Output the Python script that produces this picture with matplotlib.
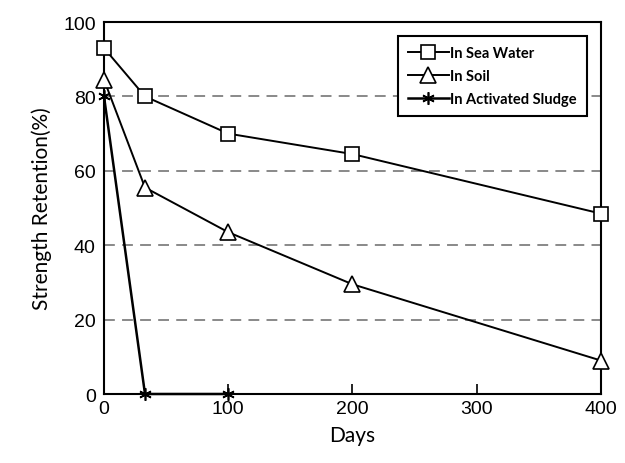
import matplotlib.pyplot as plt
import numpy as np

# days and strength retention (%)
days_sea = [0, 33, 100, 200, 400]
sea_water = [93, 80, 70, 64.5, 48.5]

days_soil = [0, 33, 100, 200, 400]
soil = [84.5, 55.5, 43.5, 29.5, 9]

days_sludge = [0, 33, 100]
sludge = [80, 0, 0]

labels = ["In Sea Water", "In Soil", "In Activated Sludge"]
x_ticks = [0, 100, 200, 300, 400]
y_ticks = [0, 20, 40, 60, 80, 100]
grid_levels = [20, 40, 60, 80]

plt.rcParams['font.family'] = ['Liberation Sans', 'DejaVu Sans']

fig = plt.figure(figsize=(6.25, 4.64), dpi=100)
ax = fig.add_axes([0.1664, 0.1487, 0.795, 0.8017])

for g in grid_levels:
    ax.axhline(g, color='#808080', lw=1.3, ls=(0, (6, 4)), zorder=1)

ax.plot(days_sea, sea_water, color='black', lw=1.4, marker='s', ms=10,
        mfc='white', mec='black', mew=1.2, label=labels[0], zorder=3, clip_on=False)
ax.plot(days_soil, soil, color='black', lw=1.4, marker='^', ms=11,
        mfc='white', mec='black', mew=1.2, label=labels[1], zorder=3, clip_on=False)
ax.plot(days_sludge, sludge, color='black', lw=1.8, marker=(6, 2, 0), ms=9,
        mec='black', mew=1.2, label=labels[2], zorder=3, clip_on=False)

ax.set_xlim(0, 400)
ax.set_ylim(0, 100)
ax.set_xticks(x_ticks)
ax.set_yticks(y_ticks)
ax.tick_params(axis='x', direction='in', length=7, width=1.2, labelsize=14, pad=4)
ax.tick_params(axis='y', direction='in', length=0, labelsize=14, pad=6)
for s in ax.spines.values():
    s.set_linewidth(1.5)

ax.set_xlabel("Days", fontsize=15, family='Lato', labelpad=6)
ax.set_ylabel("Strength Retention(%)", fontsize=15, family='Lato', labelpad=8)

leg = ax.legend(loc='upper right', bbox_to_anchor=(0.972, 0.962), borderaxespad=0,
                fancybox=False, edgecolor='black', handlelength=2.8,
                handletextpad=0.1, labelspacing=0.6, borderpad=0.7,
                prop={'family': 'Lato', 'weight': 'bold', 'size': 10.5})
leg.get_frame().set_linewidth(1.5)
leg.get_frame().set_alpha(1)

fig.savefig("out.png", dpi=100)
